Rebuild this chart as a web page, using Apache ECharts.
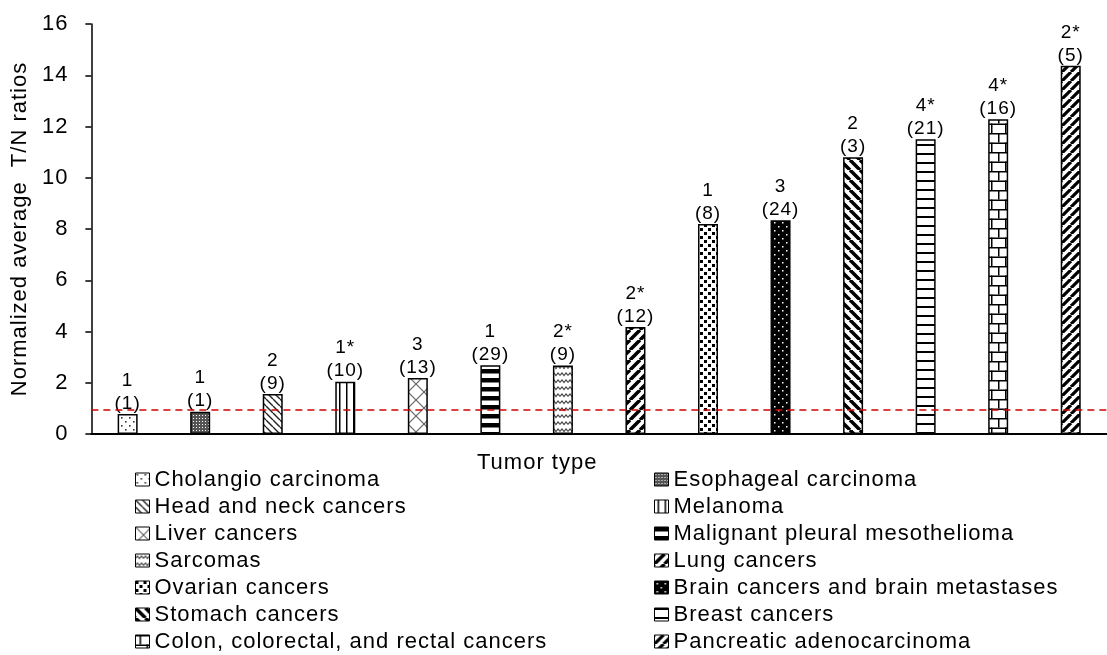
<!DOCTYPE html>
<html>
<head>
<meta charset="utf-8">
<script src="https://cdn.jsdelivr.net/npm/echarts@6/dist/echarts.min.js"></script>
<style>html,body{margin:0;padding:0;background:#fff}#c{width:1107px;height:655px}</style>
</head>
<body>
<div id="c"></div>
<script>
// ---- data ----
const categories = [
  'Cholangio carcinoma', 'Esophageal carcinoma', 'Head and neck cancers', 'Melanoma',
  'Liver cancers', 'Malignant pleural mesothelioma', 'Sarcomas', 'Lung cancers',
  'Ovarian cancers', 'Brain cancers and brain metastases', 'Stomach cancers', 'Breast cancers',
  'Colon, colorectal, and rectal cancers', 'Pancreatic adenocarcinoma'
];
const ratios = [0.78, 0.87, 1.56, 2.04, 2.19, 2.68, 2.67, 4.18, 8.2, 8.34, 10.8, 11.5, 12.28, 14.37];
const topLabels = ['1', '1', '2', '1*', '3', '1', '2*', '2*', '1', '3', '2', '4*', '4*', '2*'];
const counts = [1, 1, 9, 10, 13, 29, 9, 12, 8, 24, 3, 21, 16, 5];
const threshold = 0.93;
const yTicks = [0, 2, 4, 6, 8, 10, 12, 14, 16];

// ---- slight letter spacing on all canvas text (style only) ----
(function () {
  const proto = CanvasRenderingContext2D.prototype;
  ['fillText', 'strokeText', 'measureText'].forEach(fn => {
    const orig = proto[fn];
    proto[fn] = function () {
      if ('letterSpacing' in this) this.letterSpacing = '1px';
      return orig.apply(this, arguments);
    };
  });
})();

// ---- patterns (style only) ----
function pat(w, h, draw, bg) {
  const c = document.createElement('canvas');
  c.width = w; c.height = h;
  const g = c.getContext('2d');
  g.fillStyle = bg || '#fff'; g.fillRect(0, 0, w, h);
  g.fillStyle = '#000'; g.strokeStyle = '#000';
  draw(g, w, h);
  return { image: c, repeat: 'repeat' };
}
function diag(g, s, lw, dir, color) {
  g.strokeStyle = color || '#000'; g.lineWidth = lw; g.beginPath();
  for (let k = -1; k <= 1; k++) {
    if (dir > 0) { g.moveTo(k * s, s); g.lineTo(k * s + s, 0); }
    else { g.moveTo(k * s, 0); g.lineTo(k * s + s, s); }
  }
  g.stroke();
}
const patterns = [
  pat(8, 8, g => { g.fillStyle = '#333'; g.fillRect(1, 1, 1.6, 1.6); g.fillRect(5, 5, 1.6, 1.6); }),
  pat(3, 3, g => { g.fillStyle = '#fff'; g.fillRect(1, 1, 1, 1); }, '#555'),
  pat(7, 7, g => diag(g, 7, 1.4, -1, '#222')),
  pat(7, 4, g => { g.fillRect(3, 0, 1.5, 4); }),
  pat(16, 16, g => { diag(g, 16, 1.2, 1, '#666'); diag(g, 16, 1.2, -1, '#666'); }),
  pat(4, 9, g => { g.fillRect(0, 0, 4, 4.5); }),
  pat(8, 7, g => { g.strokeStyle = '#444'; g.lineWidth = 1.2; g.beginPath(); g.moveTo(0, 4.5); g.lineTo(2, 2); g.lineTo(4, 4.5); g.lineTo(6, 2); g.lineTo(8, 4.5); g.stroke(); }),
  pat(10, 10, g => diag(g, 10, 3.5, 1)),
  pat(8, 8, g => { g.fillRect(0, 0, 3, 3); g.fillRect(4, 4, 3, 3); }),
  pat(8, 8, g => { g.fillStyle = '#fff'; g.fillRect(2, 2, 1.5, 1.5); g.fillRect(6, 6, 1.5, 1.5); }, '#000'),
  pat(10, 10, g => diag(g, 10, 3.5, -1)),
  pat(4, 9.5, g => { g.fillRect(0, 0, 4, 2); }),
  pat(14, 19, g => { g.fillRect(0, 0, 14, 1.5); g.fillRect(0, 9.5, 14, 1.5); g.fillRect(4, 0, 1.5, 9.5); g.fillRect(11, 9.5, 1.5, 9.5); }),
  pat(9, 9, g => diag(g, 9, 3.2, 1))
];

const FONT = '"Liberation Sans", Arial, sans-serif';
const leftNames = categories.filter((_, i) => i % 2 === 0);
const rightNames = categories.filter((_, i) => i % 2 === 1);

const series = categories.map((name, i) => ({
  name: name,
  type: 'bar',
  barWidth: 20,
  barGap: '-100%',
  data: categories.map((_, j) => (j === i ? ratios[i] : '-')),
  itemStyle: { color: patterns[i], borderColor: '#000', borderWidth: 1.5 },
  label: {
    show: true, position: 'top', distance: -1,
    fontFamily: FONT, fontSize: 19, lineHeight: 23, color: '#000',
    formatter: () => topLabels[i] + '\n(' + counts[i] + ')'
  },
  emphasis: { disabled: true },
  markLine: i === 0 ? {
    silent: true, symbol: 'none', label: { show: false },
    lineStyle: { color: '#d40000', type: [7, 5], width: 1.5 },
    data: [{ yAxis: threshold }]
  } : undefined
}));

const legendCommon = {
  orient: 'vertical', top: 468, height: 187, itemWidth: 14, itemHeight: 13, itemGap: 4,
  icon: 'rect', padding: 0, selectedMode: false,
  textStyle: { fontFamily: FONT, fontSize: 22, lineHeight: 22, color: '#000' },
  itemStyle: { borderColor: '#000', borderWidth: 1 }
};

const chart = echarts.init(document.getElementById('c'), null, { renderer: 'canvas' });
chart.setOption({
  animation: false,
  grid: { left: 88, top: 24, width: 1028, height: 410, containLabel: false },
  legend: [
    Object.assign({}, legendCommon, { left: 135, data: leftNames }),
    Object.assign({}, legendCommon, { left: 654, data: rightNames })
  ],
  xAxis: {
    type: 'category', data: categories,
    axisLine: { lineStyle: { color: '#000', width: 2 } },
    axisTick: { show: false }, axisLabel: { show: false },
    name: 'Tumor type', nameLocation: 'middle', nameGap: 17,
    nameTextStyle: { fontFamily: FONT, fontSize: 22, color: '#000', padding: [0, 124, 0, 0] }
  },
  yAxis: {
    type: 'value', min: yTicks[0], max: yTicks[yTicks.length - 1], interval: 2,
    axisLine: { show: true, lineStyle: { color: '#000', width: 1.5 } },
    axisTick: { show: true, length: 6, lineStyle: { color: '#000', width: 1.5 } },
    splitLine: { show: false },
    axisLabel: { fontFamily: FONT, fontSize: 22, color: '#000', margin: 23 },
    name: 'Normalized average  T/N ratios', nameLocation: 'middle', nameGap: 50,
    nameTextStyle: { fontFamily: FONT, fontSize: 22, color: '#000' }
  },
  series: series
});
</script>
</body>
</html>
